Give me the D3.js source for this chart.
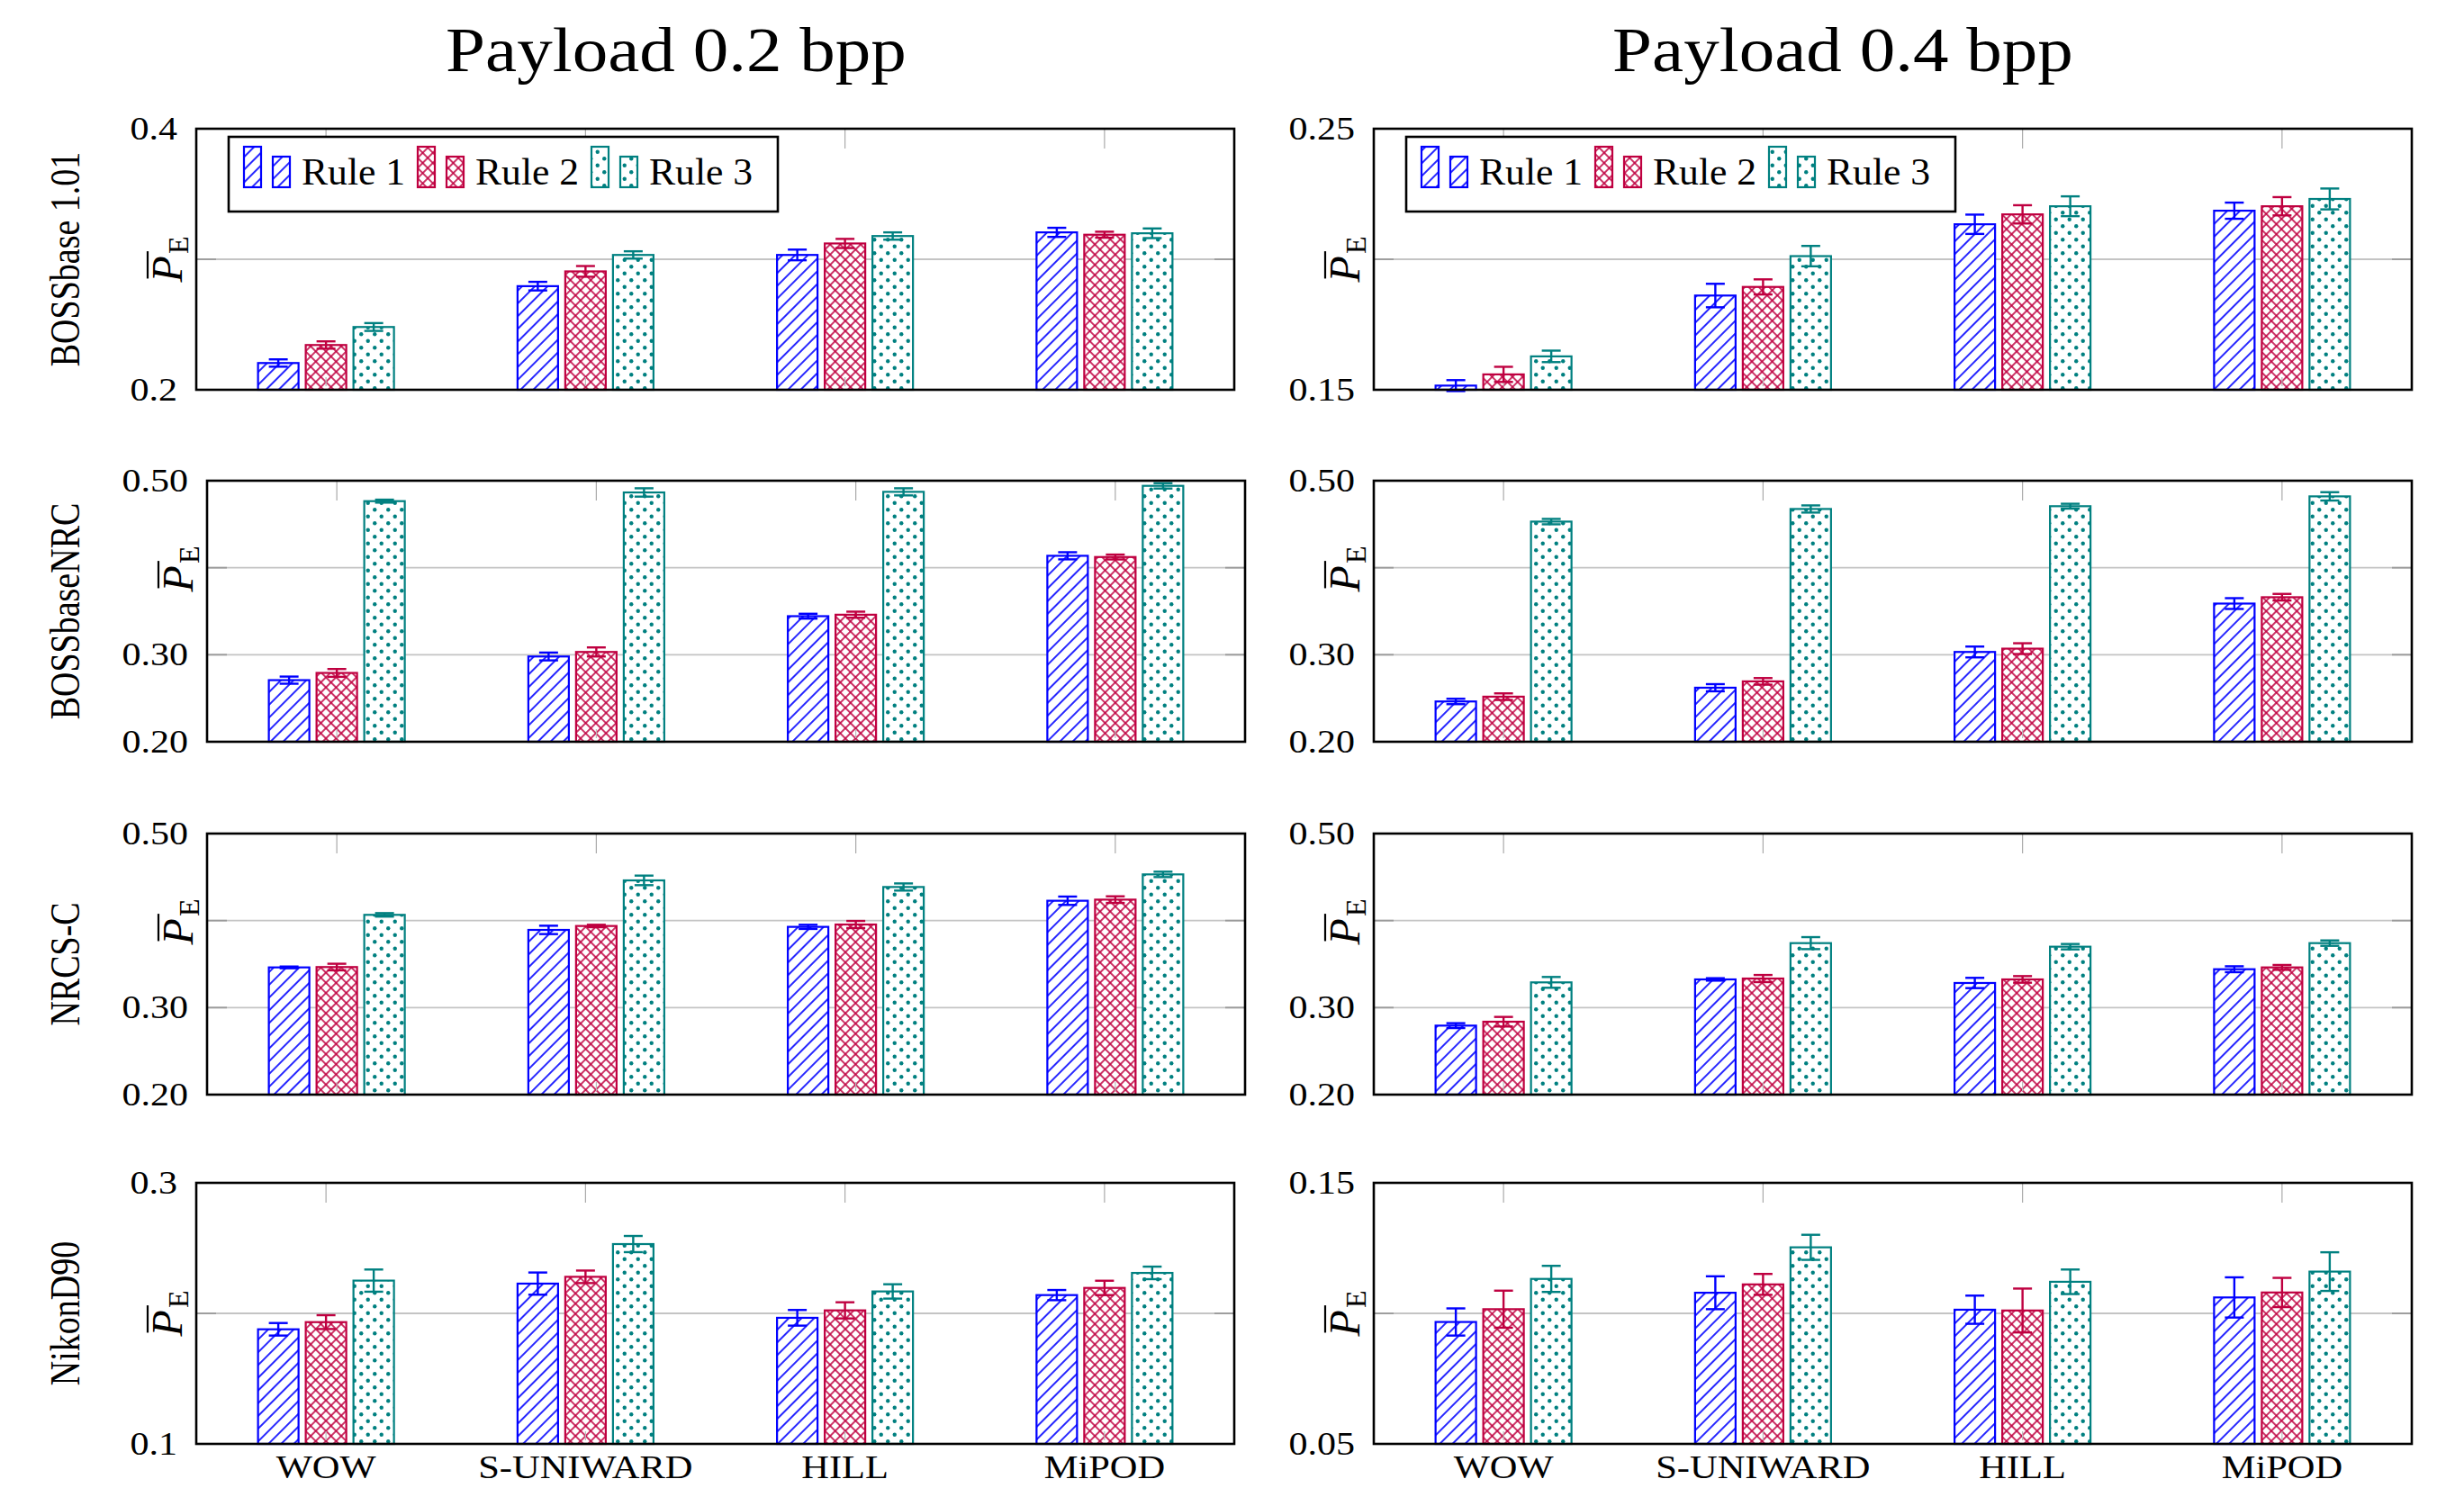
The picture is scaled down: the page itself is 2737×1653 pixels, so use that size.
<!DOCTYPE html>
<html>
<head>
<meta charset="utf-8">
<script src="https://cdn.jsdelivr.net/npm/d3@7"></script>
<style>
html, body { margin: 0; padding: 0; background: #fff; }
svg { display: block; font-family: "Liberation Serif", serif; }
</style>
</head>
<body>
<svg id="chart" width="2737" height="1653"></svg>
<script>
const METHODS = ['WOW', 'S-UNIWARD', 'HILL', 'MiPOD'];
const RULES = ['Rule 1', 'Rule 2', 'Rule 3'];
const DATASETS = ['BOSSbase 1.01', 'BOSSbaseNRC', 'NRCS-C', 'NikonD90'];
const PAYLOADS = ['Payload 0.2 bpp', 'Payload 0.4 bpp'];

// mean P_E: one row per rule, one column per method
const bossMean02 = [[0.2205, 0.2794, 0.3033, 0.3206], [0.2343, 0.2907, 0.3121, 0.3188], [0.2481, 0.3033, 0.3178, 0.3199]];
const bossErr02  = [[0.0028, 0.0033, 0.0041, 0.0035], [0.0028, 0.0041, 0.0035, 0.0023], [0.0030, 0.0028, 0.0028, 0.0037]];
const bossMean04 = [[0.1516, 0.1861, 0.2134, 0.2186], [0.1559, 0.1894, 0.2172, 0.2203], [0.1628, 0.2012, 0.2203, 0.2231]];
const bossErr04  = [[0.0021, 0.0045, 0.0037, 0.0031], [0.0029, 0.0029, 0.0035, 0.0035], [0.0022, 0.0039, 0.0038, 0.0040]];

const nrcMean02 = [[0.2708, 0.2980, 0.3443, 0.4137], [0.2791, 0.3032, 0.3460, 0.4123], [0.4765, 0.4865, 0.4872, 0.4941]];
const nrcErr02  = [[0.0041, 0.0045, 0.0028, 0.0041], [0.0045, 0.0052, 0.0035, 0.0028], [0.0017, 0.0048, 0.0041, 0.0031]];
const nrcMean04 = [[0.2463, 0.2621, 0.3032, 0.3588], [0.2518, 0.2694, 0.3070, 0.3661], [0.4530, 0.4675, 0.4707, 0.4820]];
const nrcErr04  = [[0.0031, 0.0041, 0.0062, 0.0062], [0.0038, 0.0038, 0.0062, 0.0038], [0.0031, 0.0041, 0.0028, 0.0048]];

const nrcsMean02 = [[0.3462, 0.3893, 0.3928, 0.4228], [0.3466, 0.3938, 0.3955, 0.4241], [0.4066, 0.4462, 0.4386, 0.4531]];
const nrcsErr02  = [[0.0010, 0.0048, 0.0024, 0.0048], [0.0038, 0.0014, 0.0041, 0.0038], [0.0020, 0.0055, 0.0041, 0.0031]];
const nrcsMean04 = [[0.2793, 0.3324, 0.3283, 0.3441], [0.2838, 0.3334, 0.3324, 0.3462], [0.3290, 0.3741, 0.3700, 0.3741]];
const nrcsErr04  = [[0.0028, 0.0014, 0.0059, 0.0034], [0.0055, 0.0041, 0.0038, 0.0028], [0.0062, 0.0069, 0.0031, 0.0031]];

const nikonMean02 = [[0.1878, 0.2228, 0.1966, 0.2140], [0.1933, 0.2280, 0.2023, 0.2195], [0.2251, 0.2531, 0.2168, 0.2310]];
const nikonErr02  = [[0.0048, 0.0085, 0.0060, 0.0039], [0.0053, 0.0048, 0.0062, 0.0055], [0.0085, 0.0062, 0.0055, 0.0048]];
const nikonMean04 = [[0.0967, 0.1079, 0.1014, 0.1061], [0.1016, 0.1111, 0.1011, 0.1080], [0.1132, 0.1253, 0.1121, 0.1160]];
const nikonErr04  = [[0.0052, 0.0063, 0.0054, 0.0077], [0.0071, 0.0040, 0.0084, 0.0056], [0.0050, 0.0048, 0.0047, 0.0074]];

// y ranges, grid lines and printed tick labels per row
const yDomains02 = [[0.2, 0.4], [0.2, 0.5], [0.2, 0.5], [0.1, 0.3]];
const yDomains04 = [[0.15, 0.25], [0.2, 0.5], [0.2, 0.5], [0.05, 0.15]];
const yGrid02 = [[0.3], [0.3, 0.4], [0.3, 0.4], [0.2]];
const yGrid04 = [[0.2], [0.3, 0.4], [0.3, 0.4], [0.1]];
const yLabels02 = [[0.4, 0.2], [0.5, 0.3, 0.2], [0.5, 0.3, 0.2], [0.3, 0.1]];
const yLabels04 = [[0.25, 0.15], [0.5, 0.3, 0.2], [0.5, 0.3, 0.2], [0.15, 0.05]];
const yFormat02 = ['.1f', '.2f', '.2f', '.1f'];
const yFormat04 = ['.2f', '.2f', '.2f', '.2f'];

const COLORS = ['#0000ff', '#bf0040', '#008080'];

// layout
const ROW_TOP = [143, 534, 926, 1314];
const ROW_H = 290;
const LEFT_X0 = [218, 230, 230, 218];
const PANEL_W = 1153;
const RIGHT_X0 = 1526;
const YLABEL_SHIFT = [0, -47, -47, 0];
const STRETCH = 1.2;   // the source picture is wider than tall

const svg = d3.select('#chart');
const defs = svg.append('defs');

// fill patterns: north east lines, crosshatch, dots
{
    const p0 = defs.append('pattern').attr('id', 'pat0')
      .attr('patternUnits', 'userSpaceOnUse')
      .attr('width', 10).attr('height', 10)
      .attr('patternTransform', 'rotate(45)');
    p0.append('rect').attr('width', 10).attr('height', 10).attr('fill', '#fff');
    p0.append('line').attr('x1', 5).attr('x2', 5).attr('y1', -1).attr('y2', 11)
      .attr('stroke', COLORS[0]).attr('stroke-width', 1.7);

    const p1 = defs.append('pattern').attr('id', 'pat1')
      .attr('patternUnits', 'userSpaceOnUse')
      .attr('width', 8).attr('height', 8)
      .attr('patternTransform', 'rotate(45)');
    p1.append('rect').attr('width', 8).attr('height', 8).attr('fill', '#fff');
    p1.append('line').attr('x1', 4).attr('x2', 4).attr('y1', -1).attr('y2', 9)
      .attr('stroke', COLORS[1]).attr('stroke-width', 1.6);
    p1.append('line').attr('y1', 4).attr('y2', 4).attr('x1', -1).attr('x2', 9)
      .attr('stroke', COLORS[1]).attr('stroke-width', 1.6);

    const p2 = defs.append('pattern').attr('id', 'pat2')
      .attr('patternUnits', 'userSpaceOnUse')
      .attr('width', 15).attr('height', 15);
    p2.append('rect').attr('width', 15).attr('height', 15).attr('fill', '#fff');
    p2.selectAll('circle').data([[3.75, 3.75], [11.25, 11.25]]).join('circle')
      .attr('cx', d => d[0]).attr('cy', d => d[1]).attr('r', 2.2)
      .attr('fill', COLORS[2]);
}

function stretchedText(sel, x, y, txt, size, anchor, sx) {
    return sel.append('text')
      .attr('transform', `translate(${x},${y}) scale(${sx},1)`)
      .attr('text-anchor', anchor)
      .attr('font-size', size)
      .attr('fill', '#000')
      .text(txt);
}

// rotated \overline{P}_E
function drawPELabel(g, bx, cy) {
    const lab = g.append('g').attr('transform', `translate(${bx},${cy}) rotate(-90)`);
    const p = lab.append('text').attr('font-size', 48).attr('font-style', 'italic').text('P');
    const wP = p.node().getComputedTextLength();
    const e = lab.append('text').attr('font-size', 32).text('E');
    const wE = e.node().getComputedTextLength();
    const x0 = -(wP + wE + 2) / 2;
    p.attr('x', x0);
    e.attr('x', x0 + wP + 2).attr('y', 7);
    lab.append('line')
      .attr('x1', x0 + 4).attr('x2', x0 + wP + 5)
      .attr('y1', -38).attr('y2', -38)
      .attr('stroke', '#000').attr('stroke-width', 2.2);
}

function drawPanel(p) {
    const g = svg.append('g');
    const x = d3.scaleBand().domain(METHODS).range([p.x0, p.x0 + PANEL_W]);
    const sub = d3.scaleBand().domain(RULES).range([-75.5, 75.5]).paddingInner(8 / 53);
    const y = d3.scaleLinear().domain(p.domain).range([p.y0 + ROW_H, p.y0]);
    const fmt = d3.format(p.fmt);

    // horizontal grid with tick marks at both ends
    g.selectAll('line.grid').data(p.grid).join('line')
      .attr('class', 'grid')
      .attr('x1', p.x0).attr('x2', p.x0 + PANEL_W)
      .attr('y1', d => y(d)).attr('y2', d => y(d))
      .attr('stroke', '#c4c4c4').attr('stroke-width', 1.8);
    [[p.x0, p.x0 + 22], [p.x0 + PANEL_W - 22, p.x0 + PANEL_W]].forEach(([a, b]) => {
        g.selectAll(null).data(p.grid).join('line')
          .attr('x1', a).attr('x2', b)
          .attr('y1', d => y(d)).attr('y2', d => y(d))
          .attr('stroke', '#9a9a9a').attr('stroke-width', 1.8);
    });

    // x ticks hanging from the top edge
    g.selectAll('line.xtick').data(METHODS).join('line')
      .attr('class', 'xtick')
      .attr('x1', d => x(d) + x.bandwidth() / 2).attr('x2', d => x(d) + x.bandwidth() / 2)
      .attr('y1', p.y0).attr('y2', p.y0 + 22)
      .attr('stroke', '#aaa').attr('stroke-width', 1.2);

    const bars = RULES.flatMap((r, i) => METHODS.map((m, j) => ({
        rule: r, ri: i, method: m, v: p.mean[i][j], e: p.err[i][j]
    })));
    const cx = d => x(d.method) + x.bandwidth() / 2 + sub(d.rule) + sub.bandwidth() / 2;

    g.selectAll('rect.bar').data(bars).join('rect')
      .attr('class', 'bar')
      .attr('x', d => x(d.method) + x.bandwidth() / 2 + sub(d.rule))
      .attr('width', sub.bandwidth())
      .attr('y', d => y(d.v))
      .attr('height', d => y(p.domain[0]) - y(d.v))
      .attr('fill', d => `url(#pat${d.ri})`)
      .attr('stroke', d => COLORS[d.ri])
      .attr('stroke-width', 2.2);

    // faint bottom ticks showing through the middle bars
    g.selectAll('line.btick').data(METHODS).join('line')
      .attr('class', 'btick')
      .attr('x1', d => x(d) + x.bandwidth() / 2).attr('x2', d => x(d) + x.bandwidth() / 2)
      .attr('y1', p.y0 + ROW_H - 14).attr('y2', p.y0 + ROW_H - 4)
      .attr('stroke', '#bbb').attr('stroke-width', 1.2);

    // error bars
    const eb = g.selectAll('g.err').data(bars).join('g')
      .attr('class', 'err')
      .attr('stroke', d => COLORS[d.ri])
      .attr('stroke-width', 2.4);
    eb.append('line')
      .attr('x1', cx).attr('x2', cx)
      .attr('y1', d => y(d.v - d.e)).attr('y2', d => y(d.v + d.e));
    eb.append('line')
      .attr('x1', d => cx(d) - 10.5).attr('x2', d => cx(d) + 10.5)
      .attr('y1', d => y(d.v + d.e)).attr('y2', d => y(d.v + d.e));
    eb.append('line')
      .attr('x1', d => cx(d) - 10.5).attr('x2', d => cx(d) + 10.5)
      .attr('y1', d => y(d.v - d.e)).attr('y2', d => y(d.v - d.e));

    // frame
    g.append('rect')
      .attr('x', p.x0).attr('y', p.y0)
      .attr('width', PANEL_W).attr('height', ROW_H)
      .attr('fill', 'none').attr('stroke', '#000').attr('stroke-width', 2.6);

    // y tick labels
    p.labels.forEach(v => {
        stretchedText(g, p.x0 - 21, y(v) + 11.5, fmt(v), 35, 'end', STRETCH);
    });

    drawPELabel(g, p.x0 - 16, p.y0 + ROW_H / 2 + p.labelShift);

    if (p.xLabels) {
        METHODS.forEach(m => {
            stretchedText(g, x(m) + x.bandwidth() / 2, 1642, m, 36, 'middle', 1.18);
        });
    }

    if (p.legend) {
        const lx = p.x0 + 36, ly = p.y0 + 9;
        const lg = g.append('g');
        lg.append('rect')
          .attr('x', lx).attr('y', ly).attr('width', 610).attr('height', 83)
          .attr('fill', '#fff').attr('stroke', '#000').attr('stroke-width', 2.6);
        RULES.forEach((r, i) => {
            const ex = lx + 17 + i * 193;
            lg.append('rect')
              .attr('x', ex).attr('y', ly + 11).attr('width', 19).attr('height', 45)
              .attr('fill', `url(#pat${i})`).attr('stroke', COLORS[i]).attr('stroke-width', 2.2);
            lg.append('rect')
              .attr('x', ex + 32).attr('y', ly + 22).attr('width', 19).attr('height', 34)
              .attr('fill', `url(#pat${i})`).attr('stroke', COLORS[i]).attr('stroke-width', 2.2);
            stretchedText(lg, ex + 64, ly + 53, r, 42, 'start', 1.04);
        });
    }
}

const means = [[bossMean02, bossMean04], [nrcMean02, nrcMean04], [nrcsMean02, nrcsMean04], [nikonMean02, nikonMean04]];
const errs = [[bossErr02, bossErr04], [nrcErr02, nrcErr04], [nrcsErr02, nrcsErr04], [nikonErr02, nikonErr04]];

DATASETS.forEach((ds, row) => {
    [0, 1].forEach(col => {
        drawPanel({
            x0: col === 0 ? LEFT_X0[row] : RIGHT_X0,
            y0: ROW_TOP[row],
            mean: means[row][col],
            err: errs[row][col],
            domain: col === 0 ? yDomains02[row] : yDomains04[row],
            grid: col === 0 ? yGrid02[row] : yGrid04[row],
            labels: col === 0 ? yLabels02[row] : yLabels04[row],
            fmt: col === 0 ? yFormat02[row] : yFormat04[row],
            labelShift: YLABEL_SHIFT[row],
            xLabels: row === DATASETS.length - 1,
            legend: row === 0
        });
    });
    // dataset name, rotated, left of the row
    svg.append('text')
      .attr('transform', `translate(88,${ROW_TOP[row] + ROW_H / 2}) scale(${STRETCH},1) rotate(-90)`)
      .attr('text-anchor', 'middle')
      .attr('font-size', 38)
      .text(ds);
});

// column titles
[751, 2047].forEach((cxT, i) => {
    stretchedText(svg, cxT, 79, PAYLOADS[i], 70, 'middle', 1.13);
});
</script>
</body>
</html>
